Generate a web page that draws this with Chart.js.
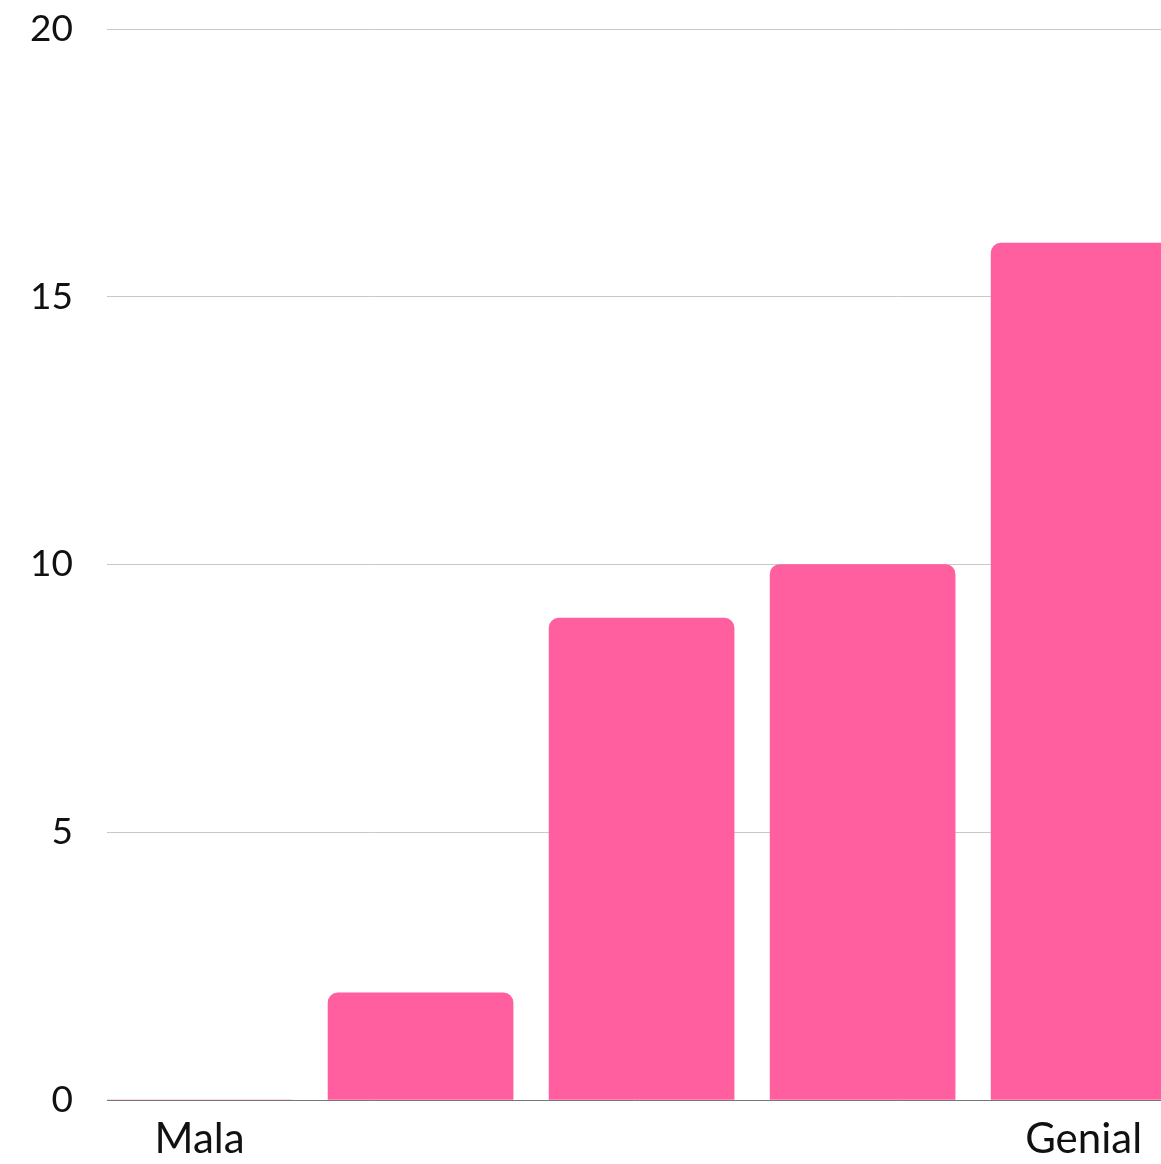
<!DOCTYPE html>
<html>
<head>
<meta charset="utf-8">
<script src="https://cdn.jsdelivr.net/npm/chart.js@4/dist/chart.umd.min.js"></script>
<style>
  body { margin: 0; background: #fff; overflow: hidden; }
</style>
</head>
<body>
<canvas id="chart" width="1161" height="1164"></canvas>
<script>
const categories = ["Mala", "", "", "", "Genial"];
const values = [0, 2, 9, 10, 16];
const yTicks = [0, 5, 10, 15, 20];

var ctx = document.getElementById("chart").getContext("2d");
var myChart = new Chart(ctx, {
  type: "bar",
  data: {
    datasets: [
      {
        data: values.map(function (v, i) { return { x: i, y: v }; }),
        backgroundColor: "#ff5e9f",
        borderRadius: { topLeft: 10, topRight: 10 },
        borderSkipped: "bottom",
        barThickness: 185,
      },
    ],
  },
  options: {
    responsive: false,
    animation: false,
    layout: { padding: { top: 29, left: 0, right: 0, bottom: 0 } },
    plugins: { legend: { display: false }, tooltip: { enabled: false } },
    scales: {
      x: {
        type: "linear",
        offset: false,
        bounds: "ticks",
        min: -0.4186,
        max: 4.35,
        grid: { display: false },
        border: { display: true, color: "#777", width: 1 },
        afterBuildTicks: function (scale) {
          scale.ticks = categories.map(function (c, i) { return { value: i }; });
        },
        afterFit: function (scale) {
          scale.height = 64;
          scale.paddingLeft = 0;
          scale.paddingRight = 0;
        },
        ticks: {
          autoSkip: false,
          maxRotation: 0,
          padding: 6,
          color: "#111",
          font: { family: "Lato", size: 42 },
          callback: function (value) { return categories[value]; },
        },
      },
      y: {
        min: 0,
        max: 20,
        afterBuildTicks: function (scale) {
          scale.ticks = yTicks.map(function (v) { return { value: v }; });
        },
        afterFit: function (scale) {
          scale.width = 107;
          scale.paddingTop = 0;
          scale.paddingBottom = 0;
        },
        grid: { color: "#c8c8c8", drawTicks: false },
        border: { display: false },
        ticks: {
          padding: 34,
          color: "#111",
          font: { family: "Lato", size: 37 },
        },
      },
    },
  },
});
</script>
</body>
</html>
